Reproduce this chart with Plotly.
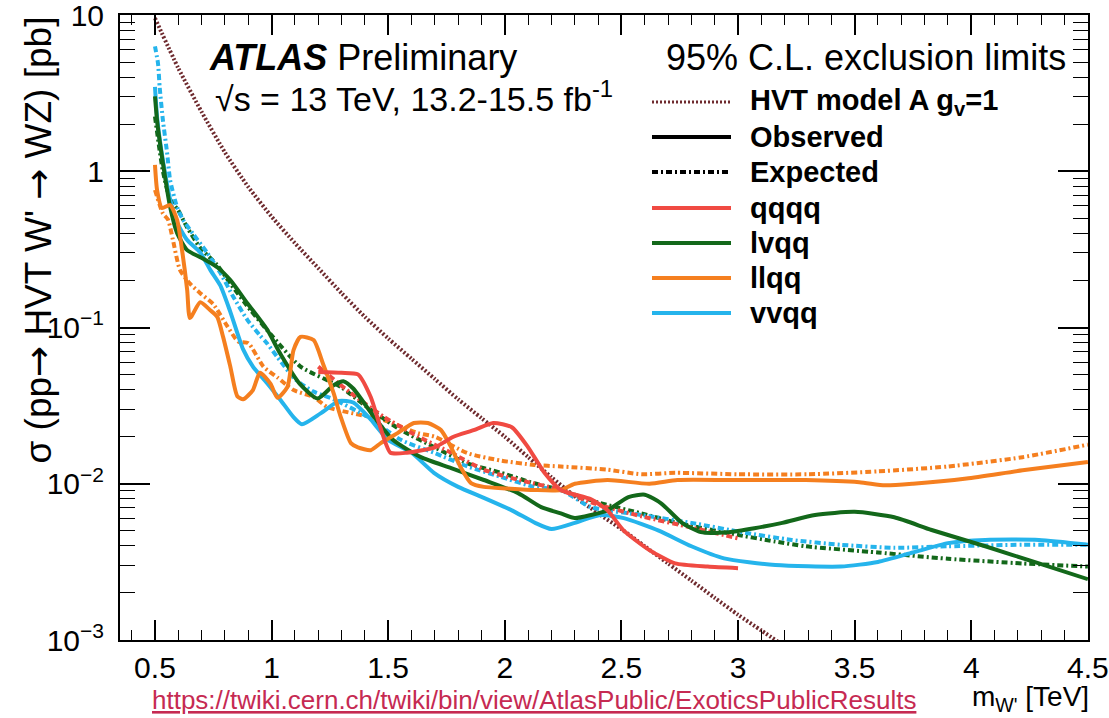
import plotly.graph_objects as go

# ---------------- data (sigma in pb, mass in TeV) ----------------
hvt_x = [0.5, 0.6, 0.7, 0.8, 0.9, 1.0, 1.1, 1.2, 1.3, 1.4, 1.5, 1.6, 1.7, 1.8, 1.9, 2.0,
         2.1, 2.2, 2.3, 2.4, 2.5, 2.6, 2.7, 2.8, 2.9, 3.0, 3.1, 3.2]
hvt_y = [9.55, 4.57, 2.40, 1.32, 0.794, 0.513, 0.347, 0.240, 0.166, 0.117, 0.0851, 0.0631,
         0.0468, 0.0347, 0.0263, 0.0200, 0.0148, 0.0110, 0.00832, 0.00646, 0.00513, 0.00398,
         0.00309, 0.00240, 0.00186, 0.00145, 0.00115, 0.000912]

qqqq_obs_x = [1.2, 1.3, 1.37, 1.425, 1.47, 1.51, 1.58, 1.7, 1.78, 1.87, 1.95, 2.03, 2.1, 2.17,
              2.24, 2.37, 2.44, 2.51, 2.62, 2.73, 2.87, 3.0]
qqqq_obs_y = [0.0519, 0.0513, 0.0501, 0.0359, 0.0221, 0.0158, 0.0158, 0.0171, 0.0200, 0.0221,
              0.0245, 0.0230, 0.0171, 0.01175, 0.00912, 0.00794, 0.00676, 0.00501, 0.00376,
              0.00309, 0.00295, 0.00288]
qqqq_exp_x = [1.2, 1.34, 1.48, 1.63, 1.77, 1.91, 2.06, 2.24, 2.37, 2.59, 2.8, 3.0]
qqqq_exp_y = [0.0562, 0.0380, 0.0269, 0.0200, 0.0158, 0.0123, 0.01057, 0.00912, 0.00759,
              0.00617, 0.00525, 0.00447]

lvqq_obs_x = [0.5, 0.51, 0.534, 0.565, 0.595, 0.638, 0.694, 0.767, 0.823, 0.896, 0.982, 1.038,
              1.12, 1.197, 1.266, 1.31, 1.35, 1.44, 1.52, 1.64, 1.77, 1.91, 2.057, 2.156, 2.24,
              2.3, 2.37, 2.44, 2.53, 2.6, 2.67, 2.76, 2.84, 2.96, 3.07, 3.19, 3.33, 3.5, 3.67,
              3.83, 4.06, 4.29, 4.5]
lvqq_obs_y = [3.02, 2.04, 1.13, 0.590, 0.402, 0.313, 0.282, 0.243, 0.201, 0.143, 0.0964, 0.0676,
              0.0437, 0.0351, 0.0427, 0.0452, 0.0407, 0.0267, 0.0191, 0.0148, 0.0126, 0.01057,
              0.00871, 0.00708, 0.00646, 0.00603, 0.00631, 0.00676, 0.00822, 0.00851, 0.0075,
              0.00562, 0.0049, 0.0049, 0.00519, 0.00562, 0.00631, 0.00661, 0.0061, 0.00506,
              0.00398, 0.00309, 0.00245]
lvqq_exp_x = [0.5, 0.534, 0.565, 0.6, 0.638, 0.694, 0.767, 0.823, 0.91, 1.0, 1.124, 1.296, 1.41,
              1.554, 1.7, 1.84, 1.984, 2.126, 2.24, 2.4, 2.586, 2.74, 2.97, 3.16, 3.29, 3.6, 3.9,
              4.22, 4.5]
lvqq_exp_y = [2.24, 1.0, 0.661, 0.562, 0.437, 0.324, 0.251, 0.191, 0.129, 0.0891, 0.0562, 0.0417,
              0.0309, 0.0221, 0.0171, 0.0135, 0.01175, 0.01007, 0.00912, 0.00759, 0.00646,
              0.00562, 0.00479, 0.00427, 0.00398, 0.00363, 0.00331, 0.00309, 0.00295]

llqq_obs_x = [0.5, 0.509, 0.53, 0.565, 0.595, 0.616, 0.638, 0.65, 0.694, 0.737, 0.767, 0.792,
              0.823, 0.853, 0.878, 0.92, 0.95, 0.995, 1.025, 1.068, 1.094, 1.124, 1.18, 1.22,
              1.266, 1.296, 1.34, 1.37, 1.425, 1.468, 1.54, 1.61, 1.67, 1.726, 1.77, 1.81, 1.855,
              1.91, 2.01, 2.126, 2.24, 2.3, 2.44, 2.62, 2.74, 2.97, 3.29, 3.52, 3.63, 3.75, 3.98,
              4.22, 4.5]
llqq_obs_y = [1.10, 0.759, 0.582, 0.608, 0.488, 0.313, 0.174, 0.115, 0.145, 0.129, 0.117, 0.0871,
              0.0562, 0.0363, 0.0347, 0.0398, 0.0513, 0.0437, 0.0355, 0.0417, 0.0716, 0.0871,
              0.0832, 0.0589, 0.0380, 0.0269, 0.0182, 0.0171, 0.0164, 0.0182, 0.0211, 0.0245,
              0.0245, 0.0221, 0.0171, 0.0128, 0.0101, 0.00955, 0.00933, 0.00912, 0.00912, 0.0100,
              0.01057, 0.0100, 0.01057, 0.01057, 0.01057, 0.01023, 0.00977, 0.0100, 0.0108,
              0.0122, 0.0138]
llqq_exp_x = [0.5, 0.534, 0.556, 0.577, 0.607, 0.65, 0.694, 0.75, 0.81, 0.857, 0.9, 0.965, 1.025,
              1.094, 1.18, 1.24, 1.35, 1.48, 1.627, 1.7, 1.84, 1.98, 2.126, 2.24, 2.44, 2.586,
              2.73, 3.0, 3.3, 3.6, 3.9, 4.22, 4.5]
llqq_exp_y = [0.759, 0.537, 0.490, 0.363, 0.234, 0.191, 0.166, 0.141, 0.102, 0.0813, 0.0794,
              0.0562, 0.0479, 0.0398, 0.0359, 0.0309, 0.0282, 0.0256, 0.0211, 0.0200, 0.0157,
              0.0141, 0.0132, 0.0129, 0.0123, 0.0115, 0.01175, 0.0115, 0.0115, 0.0120, 0.0129,
              0.0148, 0.0178]

vvqq_obs_x = [0.5, 0.51, 0.534, 0.565, 0.595, 0.638, 0.694, 0.737, 0.78, 0.823, 0.878, 0.92,
              0.98, 1.038, 1.094, 1.13, 1.21, 1.29, 1.35, 1.42, 1.5, 1.6, 1.696, 1.8, 1.91, 2.03,
              2.13, 2.2, 2.3, 2.41, 2.51, 2.66, 2.8, 2.94, 3.16, 3.44, 3.6, 3.75, 3.9, 4.06, 4.29,
              4.5]
vvqq_obs_y = [3.47, 2.14, 1.175, 0.661, 0.468, 0.363, 0.302, 0.234, 0.186, 0.126, 0.0724,
              0.0562, 0.0442, 0.0344, 0.0267, 0.0240, 0.0282, 0.0339, 0.0331, 0.0263, 0.0191,
              0.0158, 0.01175, 0.00955, 0.00813, 0.00676, 0.00562, 0.00513, 0.00562, 0.00631,
              0.00603, 0.00501, 0.00398, 0.00333, 0.00302, 0.00295, 0.00316, 0.00363, 0.00417,
              0.00437, 0.00437, 0.00407]
vvqq_exp_x = [0.5, 0.513, 0.52, 0.534, 0.552, 0.565, 0.595, 0.62, 0.663, 0.723, 0.78, 0.835,
              0.896, 0.95, 0.98, 1.025, 1.1, 1.18, 1.266, 1.41, 1.554, 1.696, 1.84, 1.98, 2.126,
              2.24, 2.37, 2.586, 2.8, 3.016, 3.23, 3.44, 3.67, 3.9, 4.22, 4.5]
vvqq_exp_y = [6.31, 4.90, 3.47, 2.12, 1.31, 0.877, 0.589, 0.490, 0.398, 0.302, 0.224, 0.158,
              0.112, 0.0891, 0.0794, 0.0646, 0.0468, 0.0389, 0.0347, 0.0269, 0.0191, 0.0158,
              0.0129, 0.0111, 0.00955, 0.00912, 0.00708, 0.00631, 0.00562, 0.00490, 0.00437,
              0.00407, 0.00389, 0.00398, 0.00407, 0.00407]

x_tick_vals = [0.5, 1, 1.5, 2, 2.5, 3, 3.5, 4, 4.5]
x_tick_text = ["0.5", "1", "1.5", "2", "2.5", "3", "3.5", "4", "4.5"]
y_tick_vals = [0.001, 0.01, 0.1, 1, 10]
y_tick_text = ["10<sup>−3</sup>", "10<sup>−2</sup>", "10<sup>−1</sup>", "1", "10"]

legend_labels = ["HVT model A g<sub>v</sub>=1", "Observed", "Expected", "qqqq", "lvqq", "llqq", "vvqq"]

# ---------------- styles ----------------
FONT = "Liberation Sans, Arial, Helvetica, sans-serif"
C_QQQQ = "#f04a42"
C_LVQQ = "#13681a"
C_LLQQ = "#f57f1f"
C_VVQQ = "#25b4ec"
C_HVT = "#6e2a2e"
EXP_DASH = "6px,3px,2px,3px"
HVT_DASH = "2px,2px"
LW = 4

fig = go.Figure()

def add_line(x, y, color, dash="solid", width=LW):
    fig.add_trace(go.Scatter(x=x, y=y, mode="lines", showlegend=False,
                             line=dict(color=color, width=width, dash=dash,
                                       shape="spline", smoothing=0.6)))

add_line(hvt_x, hvt_y, C_HVT, dash=HVT_DASH, width=4)
add_line(llqq_exp_x, llqq_exp_y, C_LLQQ, EXP_DASH)
add_line(lvqq_exp_x, lvqq_exp_y, C_LVQQ, EXP_DASH)
add_line(vvqq_exp_x, vvqq_exp_y, C_VVQQ, EXP_DASH)
add_line(qqqq_exp_x, qqqq_exp_y, C_QQQQ, EXP_DASH)
add_line(vvqq_obs_x, vvqq_obs_y, C_VVQQ)
add_line(lvqq_obs_x, lvqq_obs_y, C_LVQQ)
add_line(llqq_obs_x, llqq_obs_y, C_LLQQ)
add_line(qqqq_obs_x, qqqq_obs_y, C_QQQQ)

# plot-area geometry (pixels)
W, H = 1109, 718
L_, R_, T_, B_ = 120, 1088, 15, 640
PW, PH = R_ - L_, B_ - T_

def px(xp):
    return (xp - L_) / PW

def py(yp):
    return (B_ - yp) / PH

annotations = []
shapes = []

annotations.append(dict(text="<b><i>ATLAS</i></b> Preliminary", x=px(207), y=py(57),
                        xref="paper", yref="paper", xanchor="left", yanchor="middle",
                        showarrow=False, font=dict(size=36, color="black", family=FONT)))
annotations.append(dict(text="√s = 13 TeV, 13.2-15.5 fb<sup>-1</sup>", x=px(213), y=py(97),
                        xref="paper", yref="paper", xanchor="left", yanchor="middle",
                        showarrow=False, font=dict(size=34, color="black", family=FONT)))
annotations.append(dict(text="95% C.L. exclusion limits", x=px(1068), y=py(57),
                        xref="paper", yref="paper", xanchor="right", yanchor="middle",
                        showarrow=False, font=dict(size=36, color="black", family=FONT)))

legend_rows = [102, 137, 172, 208, 243, 278, 313]
legend_styles = [(C_HVT, HVT_DASH, 3), ("black", "solid", 4), ("black", EXP_DASH, 4),
                 (C_QQQQ, "solid", 4), (C_LVQQ, "solid", 4), (C_LLQQ, "solid", 4),
                 (C_VVQQ, "solid", 4)]
for lab, ry, (col, dsh, wd) in zip(legend_labels, legend_rows, legend_styles):
    shapes.append(dict(type="line", xref="paper", yref="paper", x0=px(652), x1=px(731),
                       y0=py(ry), y1=py(ry), line=dict(color=col, width=wd, dash=dsh)))
    annotations.append(dict(text="<b>" + lab + "</b>", x=px(748), y=py(ry),
                            xref="paper", yref="paper", xanchor="left", yanchor="middle",
                            showarrow=False, font=dict(size=29, color="black", family=FONT)))

ARROW = "<span style='font-family:DejaVu Sans'>→</span>"
annotations.append(dict(text="σ (pp" + ARROW + " HVT W' " + ARROW + " WZ) [pb]", x=0, xshift=-82, y=1,
                        xref="paper", yref="paper", xanchor="center", yanchor="top",
                        textangle=-90, showarrow=False,
                        font=dict(size=37, color="black", family=FONT)))
annotations.append(dict(text="m<sub>W'</sub> [TeV]", x=px(1091), y=py(698),
                        xref="paper", yref="paper", xanchor="right", yanchor="middle",
                        showarrow=False, font=dict(size=28, color="black", family=FONT)))
annotations.append(dict(text="<span style='text-decoration:underline'>https://twiki.cern.ch/twiki/bin/view/AtlasPublic/ExoticsPublicResults</span>",
                        x=px(150), y=py(700), xref="paper", yref="paper",
                        xanchor="left", yanchor="middle", showarrow=False,
                        font=dict(size=26, color="#c62a52", family=FONT)))

y_minor = [m * 10.0 ** e for e in range(-3, 1) for m in range(2, 10)]

fig.update_layout(
    width=W, height=H,
    margin=dict(l=L_, r=W - R_, t=T_, b=H - B_, pad=0, autoexpand=False),
    paper_bgcolor="white", plot_bgcolor="white",
    showlegend=False,
    font=dict(family=FONT, color="black"),
    annotations=annotations, shapes=shapes,
    xaxis=dict(range=[0.35, 4.5005], tickmode="array", tickvals=x_tick_vals, ticktext=x_tick_text,
               ticks="inside", ticklen=20, tickwidth=1.5, tickcolor="black",
               minor=dict(ticks="inside", ticklen=10, tickwidth=1.2, tickcolor="black",
                          dtick=0.1, tick0=0.0),
               showline=True, linewidth=2, linecolor="black", mirror="allticks",
               showgrid=False, zeroline=False, ticklabeloverflow="allow", automargin=False,
               tickfont=dict(size=30, family=FONT, color="black")),
    yaxis=dict(type="log", range=[-3, 1.0003], tickmode="array", tickvals=y_tick_vals,
               ticktext=y_tick_text,
               ticks="inside", ticklen=30, tickwidth=1.5, tickcolor="black",
               minor=dict(ticks="inside", ticklen=15, tickwidth=1.2, tickcolor="black",
                          tickmode="array", tickvals=y_minor),
               showline=True, linewidth=2, linecolor="black", mirror="allticks",
               showgrid=False, zeroline=False, ticklabelstandoff=8, ticklabeloverflow="allow",
               automargin=False,
               tickfont=dict(size=30, family=FONT, color="black")),
)

fig.write_html("out.html", config={"displayModeBar": False},
               post_script="document.body.style.margin='0px';")
